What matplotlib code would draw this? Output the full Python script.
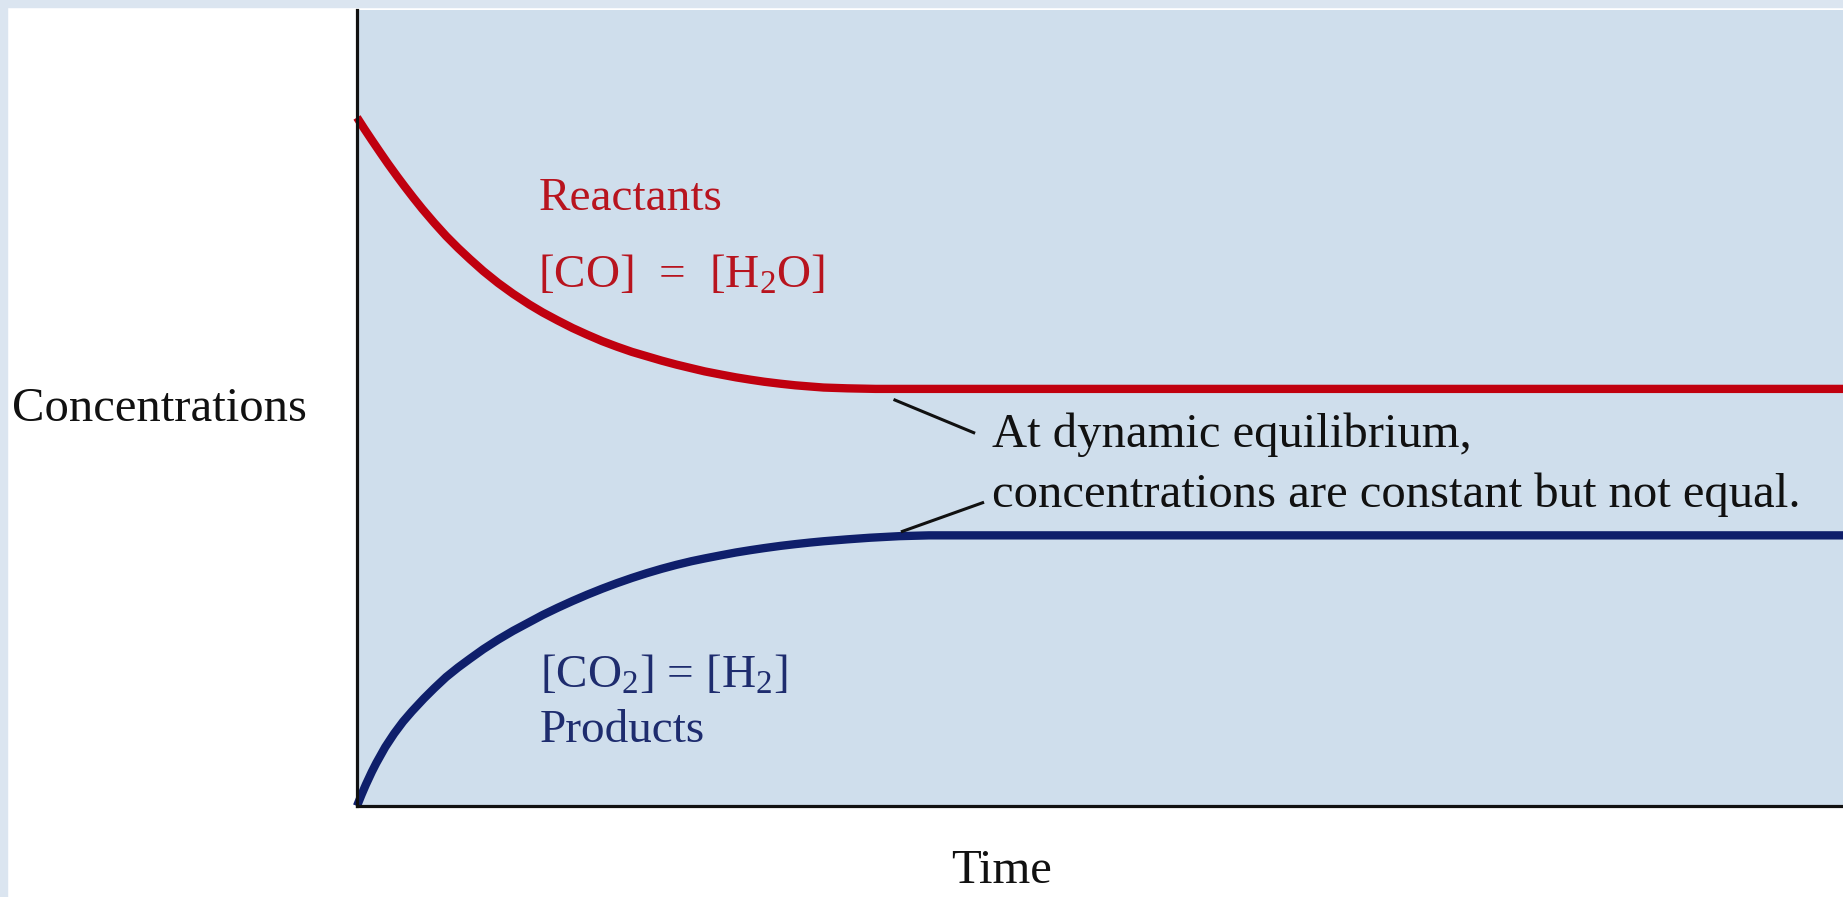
import matplotlib
matplotlib.use("Agg")
import matplotlib.pyplot as plt
from matplotlib.patches import Rectangle

plt.rcParams['font.family'] = ['Liberation Serif', 'DejaVu Serif']
plt.rcParams['mathtext.fontset'] = 'custom'
plt.rcParams['mathtext.rm'] = 'Liberation Serif'
plt.rcParams['mathtext.it'] = 'Liberation Serif:italic'

# ---- data (arbitrary units) ----
time_reactants = [0.0, 0.05, 0.1, 0.16, 0.21, 0.27, 0.32, 0.38, 0.44, 0.52, 0.6, 0.68, 0.76, 0.85,
                  0.95, 1.05, 1.16, 1.25, 1.35, 1.45, 1.55, 1.65, 1.75, 1.85, 1.95, 2.05, 2.15,
                  2.25, 2.34, 2.45, 2.55, 2.65, 2.74, 2.85, 2.95, 3.05, 3.14, 3.3, 3.49, 10.0]
conc_reactants = [8.65, 8.505, 8.365, 8.20, 8.065, 7.91, 7.785, 7.64, 7.50, 7.325, 7.16, 7.01, 6.87,
                  6.72, 6.57, 6.435, 6.30, 6.20, 6.10, 6.005, 5.92, 5.84, 5.77, 5.705, 5.65, 5.595,
                  5.545, 5.50, 5.46, 5.42, 5.385, 5.355, 5.33, 5.305, 5.285, 5.27, 5.257, 5.247,
                  5.24, 5.24]

time_products = [0.0, 0.03, 0.06, 0.1, 0.13, 0.19, 0.25, 0.31, 0.37, 0.45, 0.52, 0.6, 0.68, 0.76,
                 0.85, 0.95, 1.05, 1.16, 1.25, 1.35, 1.45, 1.55, 1.65, 1.75, 1.85, 1.95, 2.05,
                 2.15, 2.25, 2.34, 2.45, 2.55, 2.65, 2.74, 2.85, 2.95, 3.05, 3.14, 3.3, 3.45,
                 3.65, 3.85, 10.0]
conc_products = [0.0, 0.14, 0.27, 0.43, 0.54, 0.74, 0.91, 1.06, 1.19, 1.35, 1.48, 1.62, 1.74, 1.85,
                 1.97, 2.09, 2.20, 2.31, 2.40, 2.49, 2.575, 2.655, 2.73, 2.80, 2.865, 2.925, 2.98,
                 3.03, 3.075, 3.11, 3.15, 3.185, 3.215, 3.24, 3.268, 3.29, 3.31, 3.326, 3.35,
                 3.37, 3.39, 3.40, 3.40]

reactant_labels = ["Reactants", "[CO]  =  [H$_2$O]"]
product_labels = ["[CO$_2$] = [H$_2$]", "Products"]
note_lines = ["At dynamic equilibrium,", "concentrations are constant but not equal."]
x_label = "Time"
y_label = "Concentrations"

RED = "#c0000f"
RED_TXT = "#b8141e"
BLUE = "#0f1f6b"
BLUE_TXT = "#1e2c6e"
FILL = "#cfdeec"
BORDER = "#dbe5f0"

W, H = 1843, 897
fig = plt.figure(figsize=(W / 100, H / 100), dpi=100)
fig.patch.set_facecolor("white")

# page border strips
fig.patches.append(Rectangle((0, 0), 7 / W, 1, transform=fig.transFigure, color=BORDER, zorder=0))
fig.patches.append(Rectangle((0, 1 - 7 / H), 1, 7 / H, transform=fig.transFigure, color=BORDER, zorder=0))

ax = fig.add_axes([357 / W, (H - 806) / H, (W - 357) / W, (806 - 10) / H])
ax.set_facecolor(FILL)
ax.set_xlim(0, 10)
ax.set_ylim(0, 10)
for s in ["top", "right"]:
    ax.spines[s].set_visible(False)
for s in ["left", "bottom"]:
    ax.spines[s].set_linewidth(2.3)
    ax.spines[s].set_color("#111111")
ax.set_xticks([])
ax.set_yticks([])

ax.plot(time_reactants, conc_reactants, color=RED, lw=6, solid_capstyle="butt",
        solid_joinstyle="round", clip_on=False)
ax.plot(time_products, conc_products, color=BLUE, lw=6, solid_capstyle="butt",
        solid_joinstyle="round", clip_on=False)

fs = 34
ax.text(1.22, 7.49, reactant_labels[0], color=RED_TXT, fontsize=fs, va="baseline", ha="left")
ax.text(1.22, 6.51, reactant_labels[1], color=RED_TXT, fontsize=fs, va="baseline", ha="left")
ax.text(1.23, 1.49, product_labels[0], color=BLUE_TXT, fontsize=fs, va="baseline", ha="left")
ax.text(1.23, 0.80, product_labels[1], color=BLUE_TXT, fontsize=fs, va="baseline", ha="left")

ax.text(4.27, 4.51, note_lines[0], color="#111111", fontsize=35, va="baseline", ha="left")
ax.text(4.27, 3.76, note_lines[1], color="#111111", fontsize=35, va="baseline", ha="left")

ax.plot([3.62, 4.15], [5.10, 4.69], color="#111111", lw=2.2)
ax.plot([3.67, 4.21], [3.45, 3.81], color="#111111", lw=2.2)

fig.text(12 / W, (H - 421) / H, y_label, fontsize=35, color="#111111", va="baseline", ha="left")
fig.text(1001 / W, (H - 883) / H, x_label, fontsize=35, color="#111111", va="baseline", ha="center")

fig.savefig("out.png", dpi=100)
